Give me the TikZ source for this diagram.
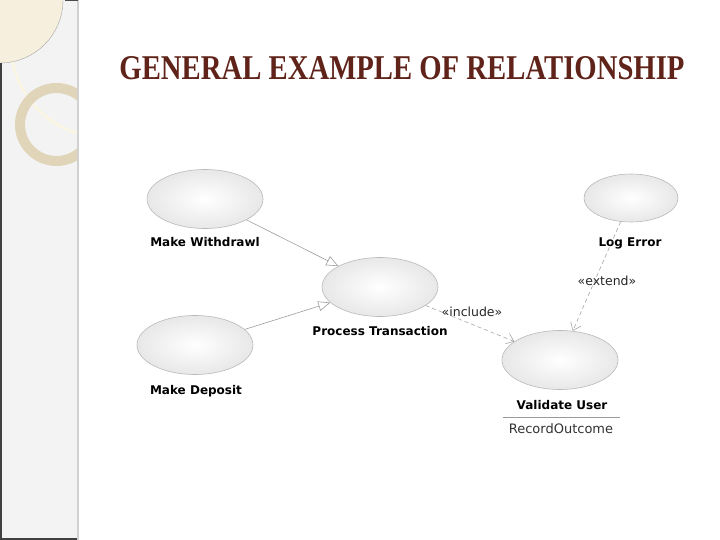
\documentclass[tikz,border=0pt]{standalone}
\usepackage{fontspec}
\setmainfont{DejaVu Sans}
\newfontfamily\titlefont{Liberation Serif}
\usetikzlibrary{shapes.geometric,arrows.meta}
\pgfdeclareradialshading{ucshade}{\pgfpoint{0bp}{0bp}}{color(0bp)=(white); color(8bp)=(black!3); color(30bp)=(black!11); color(50bp)=(black!19)}
\definecolor{titlebrown}{RGB}{95,35,25}
\definecolor{sidebar}{RGB}{243,243,243}
\definecolor{ringtan}{RGB}{224,212,185}
\definecolor{beige}{RGB}{246,239,222}
\definecolor{cream}{RGB}{251,246,226}
\begin{document}
\begin{tikzpicture}[x=1pt,y=-1pt,
  uc/.style={ellipse, draw=black!27, line width=0.6pt, shading=ucshade,
    minimum width=116pt, minimum height=59pt, inner sep=0pt},
  lbl/.style={font=\fontsize{12}{14}\selectfont\bfseries, inner sep=0pt, anchor=base},
  ster/.style={font=\fontsize{12.5}{15}\selectfont, inner sep=0pt, anchor=base, text=black!85},
  gen/.style={draw=black!38, line width=0.6pt,
    -{Triangle[open,length=12pt,width=10pt,fill=white]}},
  dep/.style={draw=black!35, line width=0.6pt, dash pattern=on 4pt off 3pt,
    -{Straight Barb[length=7pt,width=11pt]}}]
\useasboundingbox (0,0) rectangle (720,540);
\fill[white] (0,0) rectangle (720,540);
% sidebar
\fill[sidebar] (0,0) rectangle (78,540);
\begin{scope}
  \clip (0,0) rectangle (77,540);
  \draw[cream, line width=2.5pt] (104,44) circle[radius=93];
  \fill[beige] (0,0) circle[radius=63];
  \draw[black!35, line width=0.4pt] (0,0) circle[radius=63];
  \draw[ringtan, line width=10pt] (56.5,124.5) circle[radius=36.5];
\end{scope}
\fill[black!75] (0,63) rectangle (2,540);
\fill[black!75] (0,538) rectangle (78,540);
\fill[black!18] (77,0) rectangle (79,540);
\fill[black!70] (65,0) rectangle (78,1.5);
% title
\node[font=\titlefont\bfseries, text=titlebrown, inner sep=0pt] (title) at (402,68.5)
  {\resizebox{565pt}{23pt}{GENERAL EXAMPLE OF RELATIONSHIP}};
% use cases
\node[uc] (mw) at (205,199) {};
\node[uc] (pt) at (380,287) {};
\node[uc] (md) at (195,345) {};
\node[uc, minimum width=94pt, minimum height=48pt] (le) at (631,198) {};
\node[uc] (vu) at (560,360) {};
% labels
\node[lbl] (mwl) at (205,247) {Make Withdrawl};
\node[lbl] (ptl) at (380,335) {Process Transaction};
\node[lbl] (mdl) at (196,394) {Make Deposit};
\node[lbl] (lel) at (630,247) {Log Error};
\node[lbl] (vul) at (562,409) {Validate User};
\coordinate (sepl) at (503,417.3);
\coordinate (sepr) at (620,417.3);
\draw[black!40, line width=0.6pt] (sepl) -- (sepr);
\node[ster, text=black!80, font=\fontsize{13}{15}\selectfont] (roc) at (561,433) {RecordOutcome};
% connectors
\draw[gen] (mw) -- (pt);
\draw[gen] (md) -- (pt);
\draw[dep] (pt) -- (vu);
\draw[dep] (le) -- (vu);
\node[ster] (incl) at (472,316.5) {«include»};
\node[ster] (ext) at (607,285) {«extend»};
\end{tikzpicture}
\end{document}
